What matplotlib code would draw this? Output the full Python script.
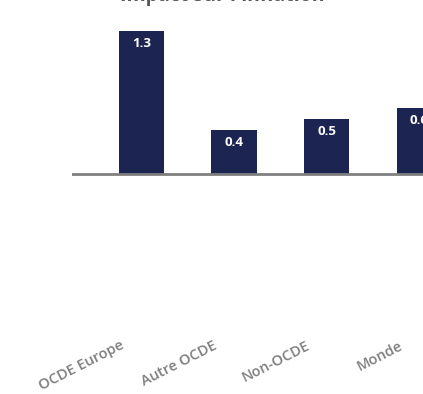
import matplotlib
matplotlib.use("Agg")
import matplotlib.pyplot as plt
import matplotlib.transforms as mtransforms

# impact par région
regions = ["OCDE Europe", "Autre OCDE", "Non-OCDE", "Monde"]
valeurs = [1.3, 0.4, 0.5, 0.6]
titre = "Impact sur l'inflation"

plt.rcParams['font.family'] = ['Open Sans', 'DejaVu Sans']

fig = plt.figure(figsize=(4.23, 3.94), dpi=100)
H = 394.0
W = 423.0
# axes: gauche à 72px, bas à 330px, haut à 20px
ax = fig.add_axes([72 / W, 1 - 330 / H, 1 - 72 / W, (330 - 20) / H])

x = range(len(regions))
barres = ax.bar(x, valeurs, width=0.49, color="#1c2551", zorder=2)
ax.set_xlim(-0.75, 3.04)
ax.set_ylim(-(330 - 174) / 110, (174 - 20) / 110)
ax.axhline(0, color="#7f7f7f", lw=2, zorder=3)

for b, v in zip(barres, valeurs):
    ax.annotate(f"{v:.1f}", (b.get_x() + b.get_width() / 2, v),
                xytext=(0, -4), textcoords="offset points",
                ha="center", va="top", color="white",
                fontsize=9.5, fontweight="bold")

ax.set_xticks(list(x))
ax.set_xticklabels(regions, rotation=27, ha="right", va="top",
                   rotation_mode="anchor", color="#7f7f7f", fontsize=10.5,
                   fontweight="semibold")
ax.tick_params(axis="x", length=0, pad=6)
decal = mtransforms.ScaledTranslation(-21 / 100, 0, fig.dpi_scale_trans)
for lab in ax.get_xticklabels():
    lab.set_transform(lab.get_transform() + decal)

ax.set_yticks([])
for s in ax.spines.values():
    s.set_visible(False)

# titre coupé par le haut de l'image
fig.text(222 / W, 1 - 0.5 / H, titre, ha="center", va="baseline",
         fontsize=14, fontweight="bold", color="#595959")

fig.savefig("out.png", dpi=100)
